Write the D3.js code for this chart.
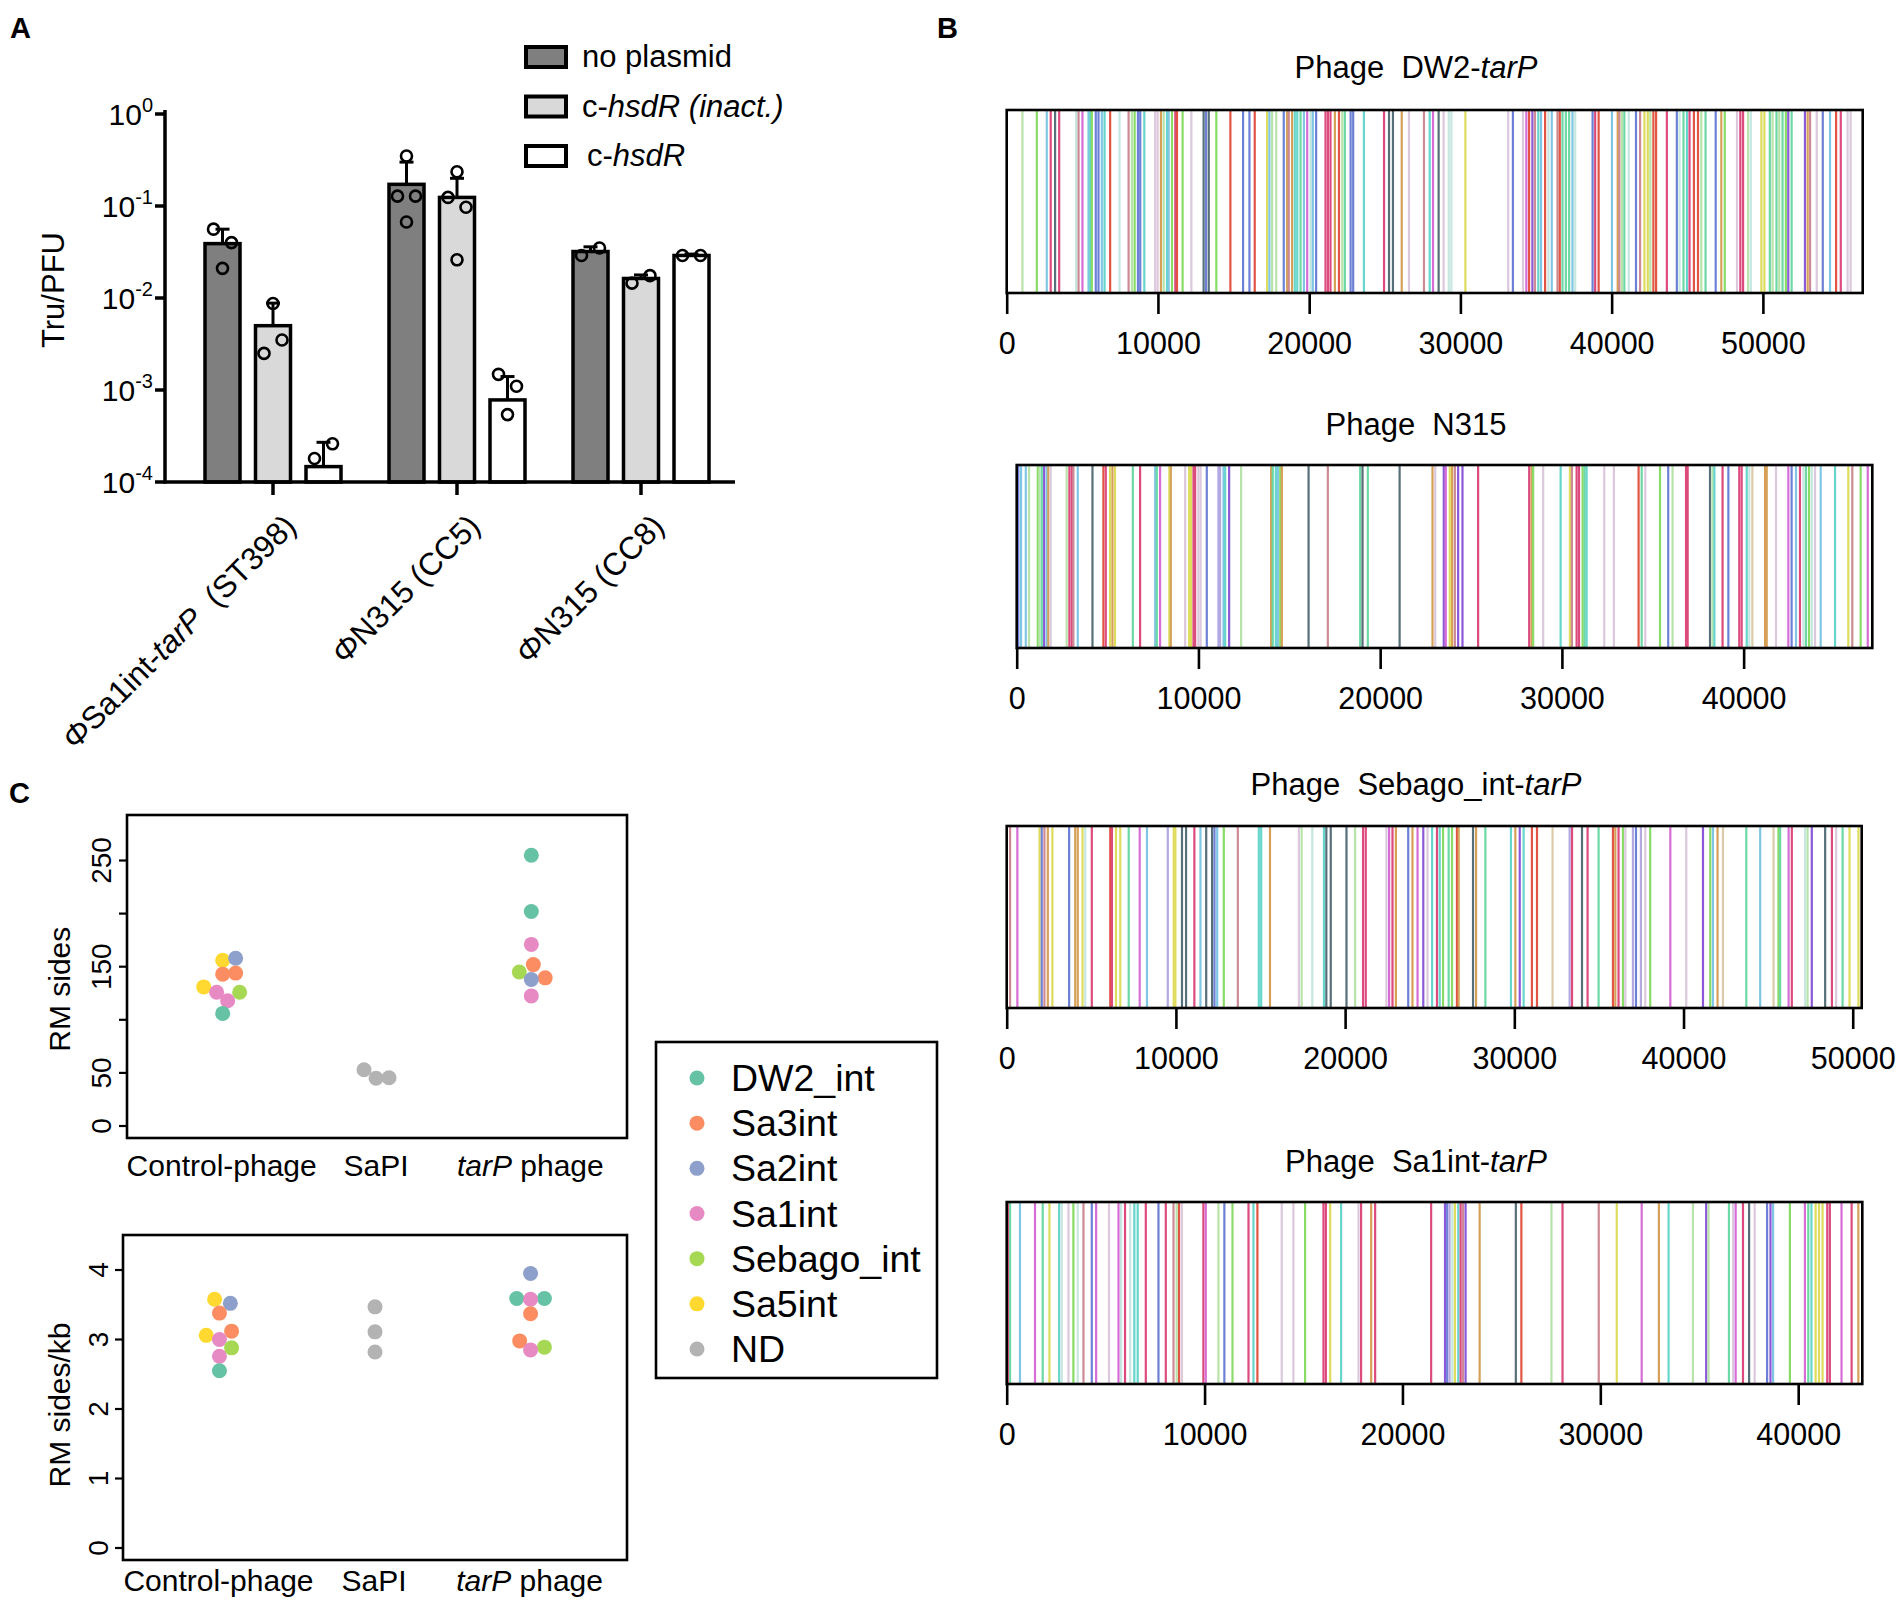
<!DOCTYPE html>
<html>
<head>
<meta charset="utf-8">
<script src="https://cdn.jsdelivr.net/npm/d3@7"></script>
<style>
  body { margin: 0; background: #fff; }
  text { font-family: "Liberation Sans", Arial, sans-serif; fill: #000; }
</style>
</head>
<body>
<div id="fig"></div>
<script>
// ---------- panel A data ----------
const groupsA = ["Sa1int", "N315_CC5", "N315_CC8"];
const seriesA = ["no plasmid", "c-hsdR (inact.)", "c-hsdR"];
const meanNoPlasmid = [0.039, 0.172, 0.032];
const meanInact = [0.0050, 0.124, 0.0163];
const meanHsdR = [0.000147, 0.00078, 0.029];
const upperNoPlasmid = [0.056, 0.30, 0.036];
const upperInact = [0.0088, 0.20, 0.0178];
const upperHsdR = [0.00027, 0.0014, 0.030];
const ptsNoPlasmid = [[0.056, 0.040, 0.021], [0.35, 0.128, 0.128, 0.067], [0.029, 0.035]];
const ptsInact = [[0.0025, 0.0035, 0.0087], [0.236, 0.124, 0.097, 0.026], [0.0145, 0.0175]];
const ptsHsdR = [[0.00018, 0.00026], [0.00148, 0.0011, 0.00054], [0.029, 0.029]];
const yTicksA = [1e-4, 1e-3, 1e-2, 1e-1, 1];

// ---------- panel C data ----------
const integrases = ["DW2_int", "Sa3int", "Sa2int", "Sa1int", "Sebago_int", "Sa5int", "ND"];
const categoriesC = ["Control-phage", "SaPI", "tarP phage"];
// [category index, integrase, value, jitter]
const rmSites = [
  [1, "Sa5int", 156, 0], [1, "Sa5int", 131, -0.123], [1, "Sa2int", 158, 0.084],
  [1, "Sa3int", 143, 0], [1, "Sa3int", 144, 0.084], [1, "Sa1int", 126, -0.039],
  [1, "Sa1int", 118, 0.032], [1, "Sebago_int", 126, 0.11], [1, "DW2_int", 106, 0],
  [2, "ND", 53, -0.084], [2, "ND", 45, -0.006], [2, "ND", 45.5, 0.078],
  [3, "DW2_int", 255, 0], [3, "DW2_int", 202, 0], [3, "Sa1int", 171, 0],
  [3, "Sa3int", 152, 0.013], [3, "Sebago_int", 145, -0.078], [3, "Sa3int", 139.5, 0.09],
  [3, "Sa2int", 138, 0], [3, "Sa1int", 122.5, 0]
];
const rmSitesKb = [
  [1, "Sa5int", 3.58, -0.031], [1, "Sa2int", 3.52, 0.07], [1, "Sa3int", 3.38, 0],
  [1, "Sa3int", 3.12, 0.078], [1, "Sa5int", 3.06, -0.085], [1, "Sa1int", 3.0, 0],
  [1, "Sebago_int", 2.88, 0.078], [1, "Sa1int", 2.76, 0], [1, "DW2_int", 2.55, 0],
  [2, "ND", 3.47, 0], [2, "ND", 3.11, 0], [2, "ND", 2.82, 0],
  [3, "Sa2int", 3.95, 0], [3, "DW2_int", 3.59, -0.089], [3, "DW2_int", 3.59, 0.089],
  [3, "Sa1int", 3.58, 0], [3, "Sa3int", 3.37, 0], [3, "Sa3int", 2.98, -0.07],
  [3, "Sebago_int", 2.89, 0.089], [3, "Sa1int", 2.85, 0]
];
const yTicksTop = [0, 50, 100, 150, 200, 250];
const yLabelsTop = [0, 50, 150, 250];
const yTicksBottom = [0, 1, 2, 3, 4];

// ---------- panel B data (site position in bp, motif class) ----------
const phageNames = [["Phage\u00a0 DW2-", "tarP"], ["Phage\u00a0 N315", ""], ["Phage\u00a0 Sebago_int-", "tarP"], ["Phage\u00a0 Sa1int-", "tarP"]];
const phageLengths = [56600, 47080, 50530, 43240];
const phageTicks = [[0, 10000, 20000, 30000, 40000, 50000], [0, 10000, 20000, 30000, 40000], [0, 10000, 20000, 30000, 40000, 50000], [0, 10000, 20000, 30000, 40000]];
const motifClasses = ["lg", "gr", "sg", "tq", "pl", "lb", "bl", "vi", "lv", "mg", "pk", "rs", "cr", "rd", "tn", "bg", "yl", "dk"];

const dw2Sites = [[1040,"lg"],[1990,"gr"],[2650,"lb"],[2910,"cr"],[3200,"dk"],[3470,"cr"],[4590,"pl"],[4750,"rs"],[5010,"mg"],[5410,"lb"],[5520,"tq"],[5630,"gr"],[5890,"bl"],[6070,"bl"],[6290,"lb"],[6470,"tq"],[6840,"rd"],[7460,"pl"],[8060,"rs"],[8280,"lg"],[8460,"gr"],[8680,"bl"],[8830,"bl"],[9100,"tq"],[9820,"pk"],[9980,"pk"],[10200,"tn"],[10380,"lg"],[10600,"tq"],[10710,"lb"],[10930,"gr"],[11150,"cr"],[11260,"rd"],[11630,"gr"],[12210,"pk"],[13020,"dk"],[13180,"bl"],[13360,"dk"],[13860,"gr"],[14790,"rd"],[15630,"bl"],[16050,"bl"],[16400,"rd"],[17220,"yl"],[17370,"lb"],[17550,"lg"],[17820,"lg"],[18320,"bl"],[18540,"tn"],[18650,"rs"],[18870,"tn"],[19050,"tq"],[19210,"tq"],[19430,"sg"],[19650,"lb"],[19870,"mg"],[20090,"pl"],[20240,"lb"],[20460,"bl"],[21080,"cr"],[21240,"cr"],[21410,"cr"],[21700,"tn"],[21970,"rd"],[22190,"lg"],[22360,"sg"],[22740,"bl"],[22910,"bl"],[23620,"tq"],[24950,"cr"],[25280,"dk"],[25540,"dk"],[26120,"tn"],[26600,"pk"],[27590,"rs"],[27970,"tq"],[28190,"mg"],[28560,"dk"],[28890,"pk"],[29230,"pl"],[29400,"pl"],[30330,"yl"],[33160,"pk"],[33470,"bl"],[34140,"pk"],[34360,"mg"],[34540,"rd"],[34760,"vi"],[34930,"rs"],[35150,"tq"],[35330,"lb"],[35600,"rd"],[35820,"pl"],[36040,"lb"],[36420,"rs"],[36570,"rd"],[36750,"sg"],[36970,"sg"],[37190,"sg"],[37410,"lb"],[37590,"pl"],[38740,"bl"],[38910,"cr"],[39140,"rd"],[40020,"lb"],[40400,"tn"],[40510,"rs"],[40680,"lg"],[40840,"sg"],[41130,"pl"],[41610,"bl"],[41880,"rs"],[42170,"yl"],[42390,"yl"],[42560,"lg"],[42760,"rd"],[42940,"rd"],[43650,"cr"],[44310,"bl"],[44490,"pl"],[44750,"sg"],[44980,"tq"],[45150,"cr"],[45440,"rd"],[45710,"rd"],[45930,"lg"],[46210,"sg"],[46880,"bl"],[47250,"tn"],[47480,"gr"],[48290,"pk"],[48510,"cr"],[48690,"cr"],[49020,"lg"],[49200,"pl"],[49900,"yl"],[50100,"yl"],[50460,"sg"],[50640,"lg"],[50900,"sg"],[51080,"lg"],[51300,"sg"],[51520,"gr"],[51680,"vi"],[51900,"sg"],[52780,"vi"],[52960,"tn"],[53120,"rs"],[53560,"pk"],[53960,"bl"],[54440,"lb"],[54840,"rd"],[55150,"cr"],[55600,"pk"],[55800,"pk"]];

const n315Sites = [[90,"bl"],[240,"lb"],[500,"lb"],[680,"lg"],[1160,"gr"],[1250,"lg"],[1380,"sg"],[1510,"vi"],[1650,"lb"],[1740,"tn"],[1870,"pk"],[2750,"lg"],[2900,"cr"],[3030,"cr"],[3120,"rs"],[3360,"lb"],[4170,"dk"],[4770,"rd"],[4900,"cr"],[5140,"yl"],[5270,"tn"],[5410,"yl"],[6390,"sg"],[6790,"cr"],[7620,"lb"],[7710,"sg"],[7890,"mg"],[8400,"yl"],[8480,"tn"],[9270,"pk"],[9490,"yl"],[9600,"yl"],[9730,"cr"],[9820,"cr"],[10000,"pk"],[10120,"pk"],[10460,"bl"],[11100,"lv"],[11190,"lv"],[11380,"lb"],[11470,"tq"],[11690,"vi"],[12350,"lg"],[14000,"tn"],[14090,"sg"],[14260,"tq"],[14370,"lb"],[14500,"gr"],[14590,"tn"],[16060,"dk"],[17120,"rs"],[18900,"sg"],[19030,"dk"],[19320,"sg"],[21070,"dk"],[22880,"tn"],[23030,"pk"],[23500,"vi"],[23610,"mg"],[23830,"yl"],[23960,"tn"],[24110,"rs"],[24290,"vi"],[24530,"vi"],[25390,"cr"],[28200,"cr"],[28330,"tn"],[28420,"gr"],[28970,"pk"],[29930,"tq"],[30440,"yl"],[30550,"rs"],[30810,"cr"],[30940,"cr"],[31140,"gr"],[31250,"sg"],[31360,"tq"],[32330,"pk"],[32860,"pk"],[34220,"rd"],[34390,"sg"],[34590,"pk"],[35400,"gr"],[35850,"bl"],[36090,"lg"],[36830,"cr"],[36920,"cr"],[38150,"dk"],[38290,"lg"],[38390,"tq"],[38840,"cr"],[39160,"bl"],[39760,"cr"],[39890,"cr"],[40170,"tq"],[40310,"pl"],[40480,"bg"],[41180,"tn"],[41270,"tn"],[41780,"pk"],[42460,"mg"],[42640,"bl"],[42880,"lb"],[43100,"cr"],[43290,"pl"],[43430,"sg"],[43600,"gr"],[43750,"pl"],[43930,"pk"],[44240,"lb"],[45030,"tq"],[45760,"yl"],[45980,"rs"],[46440,"gr"],[46830,"mg"]];

const sebagoSites = [[200,"rs"],[630,"mg"],[1940,"yl"],[2070,"bl"],[2230,"rs"],[2430,"tn"],[2700,"yl"],[3690,"bl"],[4050,"tn"],[4200,"tn"],[4480,"yl"],[4640,"pl"],[5030,"cr"],[6120,"rd"],[6220,"cr"],[6460,"yl"],[6710,"yl"],[7210,"sg"],[7860,"mg"],[8290,"lb"],[9520,"lv"],[9870,"yl"],[9970,"yl"],[10360,"dk"],[10600,"dk"],[11090,"cr"],[11450,"lb"],[11790,"dk"],[12140,"dk"],[12280,"bl"],[12440,"lb"],[12830,"gr"],[13660,"rs"],[14900,"tq"],[15040,"tq"],[15560,"tn"],[17270,"pk"],[17430,"lg"],[18060,"pl"],[18750,"tq"],[18890,"dk"],[19150,"dk"],[20080,"dk"],[20590,"lg"],[21060,"cr"],[21220,"cr"],[22440,"pk"],[22600,"mg"],[22800,"cr"],[23000,"tn"],[23730,"bl"],[23980,"tn"],[24280,"mg"],[24620,"vi"],[24870,"pk"],[25140,"tq"],[25430,"cr"],[25590,"tq"],[25790,"gr"],[26120,"sg"],[26320,"gr"],[26610,"rd"],[26710,"tn"],[27560,"dk"],[27740,"tn"],[28290,"sg"],[29800,"tq"],[30060,"tn"],[30320,"vi"],[30550,"tq"],[31040,"rd"],[31340,"rd"],[32260,"bg"],[33270,"lv"],[33410,"cr"],[34000,"dk"],[34330,"cr"],[34980,"sg"],[35830,"rd"],[35970,"tn"],[36160,"cr"],[36420,"gr"],[36560,"pk"],[37010,"lv"],[37190,"bl"],[37480,"lv"],[37740,"pk"],[38030,"gr"],[39220,"mg"],[40160,"pk"],[41150,"vi"],[41580,"gr"],[41740,"lb"],[42010,"tn"],[42330,"bg"],[43710,"sg"],[44530,"lb"],[45320,"bg"],[45610,"gr"],[45710,"sg"],[46210,"mg"],[46400,"cr"],[47190,"pl"],[47330,"lg"],[47580,"vi"],[48370,"dk"],[48770,"cr"],[49020,"pk"],[49400,"sg"],[49810,"yl"],[50340,"yl"]];

const sa1Sites = [[60,"cr"],[170,"sg"],[670,"lb"],[1430,"mg"],[1820,"sg"],[2160,"yl"],[2650,"tq"],[2780,"pl"],[3120,"pk"],[3370,"gr"],[3590,"pl"],[3880,"rs"],[4300,"bl"],[4520,"mg"],[5170,"pk"],[5650,"mg"],[5780,"pl"],[5980,"cr"],[6240,"pl"],[6450,"tq"],[6620,"tq"],[7030,"cr"],[7670,"bl"],[8040,"cr"],[8430,"rs"],[8590,"lg"],[8710,"rd"],[8850,"pk"],[9940,"cr"],[10060,"mg"],[10700,"lg"],[11000,"bl"],[11410,"gr"],[12220,"cr"],[12470,"tq"],[12670,"rd"],[13900,"pk"],[14490,"pk"],[15080,"gr"],[16010,"cr"],[16130,"cr"],[16350,"yl"],[16900,"tq"],[17780,"pk"],[17910,"cr"],[18420,"tn"],[18620,"cr"],[21450,"cr"],[22150,"vi"],[22260,"bl"],[22380,"lv"],[22520,"pl"],[22650,"yl"],[22820,"tq"],[22940,"cr"],[23060,"rs"],[23190,"vi"],[23900,"tn"],[25730,"dk"],[26010,"rd"],[27530,"lg"],[28090,"cr"],[29920,"rs"],[30830,"yl"],[32090,"mg"],[32960,"tn"],[33450,"tq"],[34680,"lg"],[35350,"vi"],[35470,"lg"],[36500,"sg"],[36710,"pk"],[36840,"mg"],[37210,"cr"],[37520,"dk"],[37800,"pk"],[38430,"bl"],[38600,"vi"],[38730,"lb"],[39580,"gr"],[40340,"mg"],[40510,"sg"],[40670,"tq"],[40880,"yl"],[41050,"yl"],[41230,"yl"],[41470,"cr"],[41600,"cr"],[42190,"mg"],[42700,"cr"],[43040,"tn"]];

const phageSites = [dw2Sites, n315Sites, sebagoSites, sa1Sites];

// ---------- drawing ----------
const svg = d3.select("#fig").append("svg")
  .attr("width", 1904)
  .attr("height", 1604);

svg.append("rect").attr("width", 1904).attr("height", 1604).attr("fill", "#fff");

function panelLetter(t, x, y) {
  svg.append("text").attr("x", x).attr("y", y)
    .style("font-size", "29px").style("font-weight", "bold").text(t);
}
panelLetter("A", 10, 38);
panelLetter("B", 937, 38);
panelLetter("C", 9, 803);

// ===== Panel A =====
const A = { left: 165, right: 735, top: 114, bottom: 482 };
const yA = d3.scaleLog().domain([1e-4, 1]).range([A.bottom, A.top]);
const xA = d3.scaleBand().domain(groupsA).range([181, 733]);
const xSub = d3.scaleBand().domain(seriesA).range([-75.75, 75.75]);
const barW = 35;
const fillsA = ["#7f7f7f", "#d9d9d9", "#ffffff"];
const meansA = [meanNoPlasmid, meanInact, meanHsdR];
const uppersA = [upperNoPlasmid, upperInact, upperHsdR];
const ptsA = [ptsNoPlasmid, ptsInact, ptsHsdR];
const jitterPattern = { 2: [-1, 1], 3: [-1, 1, 0], 4: [0, -1, 1, 0] };

const gA = svg.append("g");
const barData = [];
groupsA.forEach((g, gi) => seriesA.forEach((s, si) => {
  barData.push({ g, s, si, mean: meansA[si][gi], upper: uppersA[si][gi], pts: ptsA[si][gi] });
}));
const cx = d => xA(d.g) + xA.bandwidth() / 2 + xSub(d.s) + xSub.bandwidth() / 2;

// error bars (behind the bars)
gA.selectAll("line.err").data(barData).enter().append("line")
  .attr("x1", cx).attr("x2", cx)
  .attr("y1", d => yA(d.mean)).attr("y2", d => yA(d.upper))
  .attr("stroke", "#000").attr("stroke-width", 3);
gA.selectAll("line.cap").data(barData).enter().append("line")
  .attr("x1", d => cx(d) - 7).attr("x2", d => cx(d) + 7)
  .attr("y1", d => yA(d.upper)).attr("y2", d => yA(d.upper))
  .attr("stroke", "#000").attr("stroke-width", 3);

gA.selectAll("rect.bar").data(barData).enter().append("rect")
  .attr("x", d => cx(d) - barW / 2)
  .attr("y", d => yA(d.mean))
  .attr("width", barW)
  .attr("height", d => A.bottom - yA(d.mean))
  .attr("fill", d => fillsA[d.si])
  .attr("stroke", "#000").attr("stroke-width", 3.5);

barData.forEach(d => {
  const pat = jitterPattern[d.pts.length];
  gA.selectAll(null).data(d.pts).enter().append("circle")
    .attr("cx", (v, i) => cx(d) + pat[i] * 9)
    .attr("cy", v => yA(v))
    .attr("r", 5.5)
    .attr("fill", "none").attr("stroke", "#000").attr("stroke-width", 2.6);
});

// axes
gA.append("line").attr("x1", A.left).attr("x2", A.left).attr("y1", A.top - 4).attr("y2", A.bottom + 1.5)
  .attr("stroke", "#000").attr("stroke-width", 3.5);
gA.append("line").attr("x1", A.left - 1.5).attr("x2", A.right).attr("y1", A.bottom).attr("y2", A.bottom)
  .attr("stroke", "#000").attr("stroke-width", 3.5);
yTicksA.forEach(t => {
  gA.append("line").attr("x1", A.left - 10).attr("x2", A.left).attr("y1", yA(t)).attr("y2", yA(t))
    .attr("stroke", "#000").attr("stroke-width", 3.5);
  const tx = gA.append("text").attr("x", 153).attr("y", yA(t) + 11)
    .attr("text-anchor", "end").style("font-size", "30px");
  tx.append("tspan").text("10");
  tx.append("tspan").attr("dy", -13).style("font-size", "20px").text(Math.round(Math.log10(t)) === 0 ? "0" : Math.round(Math.log10(t)));
});
groupsA.forEach(g => {
  const x = xA(g) + xA.bandwidth() / 2;
  gA.append("line").attr("x1", x).attr("x2", x).attr("y1", A.bottom).attr("y2", A.bottom + 13)
    .attr("stroke", "#000").attr("stroke-width", 3.5);
});
gA.append("text").attr("transform", "translate(64,290) rotate(-90)")
  .attr("text-anchor", "middle").style("font-size", "31px").text("Tru/PFU");

// rotated category labels
const labelPartsA = [
  [["Φ", true], ["Sa1int-", false], ["tarP", true], ["\u00a0 (ST398)", false]],
  [["Φ", true], ["N315 (CC5)", false]],
  [["Φ", true], ["N315 (CC8)", false]]
];
groupsA.forEach((g, gi) => {
  const x = xA(g) + xA.bandwidth() / 2 + 25;
  const t = gA.append("text").attr("transform", `translate(${x},${A.bottom + 46}) rotate(-45)`)
    .attr("text-anchor", "end").style("font-size", "31.5px");
  labelPartsA[gi].forEach(p => t.append("tspan").style("font-style", p[1] ? "italic" : "normal").text(p[0]));
});

// legend A
const legA = [
  [["no plasmid", false]],
  [["c-", false], ["hsdR (inact.)", true]],
  [["c-", false], ["hsdR", true]]
];
const legAy = d3.scalePoint().domain(seriesA).range([57, 156]);
seriesA.forEach((s, i) => {
  const y = legAy(s);
  gA.append("rect").attr("x", 526).attr("y", y - 10).attr("width", 40).attr("height", 20)
    .attr("fill", fillsA[i]).attr("stroke", "#000").attr("stroke-width", 4);
  const t = gA.append("text").attr("x", i === 2 ? 587 : 582).attr("y", y + 10).style("font-size", "31px");
  legA[i].forEach(p => t.append("tspan").style("font-style", p[1] ? "italic" : "normal").text(p[0]));
});

// ===== Panel C =====
const setColors = d3.scaleOrdinal().domain(integrases)
  .range(["#66c2a5", "#fc8d62", "#8da0cb", "#e78ac3", "#a6d854", "#ffd92f", "#b3b3b3"]);

function stripPanel(box, yDomain, yRange, ticks, labels, data, yTitle, catY, tickLabelX) {
  const g = svg.append("g");
  const x = d3.scaleLinear().domain([0.38, 3.62]).range([box.left, box.right]);
  const y = d3.scaleLinear().domain(yDomain).range(yRange);
  g.selectAll("circle").data(data).enter().append("circle")
    .attr("cx", d => x(d[0] + d[3]))
    .attr("cy", d => y(d[2]))
    .attr("r", 7.5)
    .attr("fill", d => setColors(d[1]));
  g.append("rect").attr("x", box.left).attr("y", box.top)
    .attr("width", box.right - box.left).attr("height", box.bottom - box.top)
    .attr("fill", "none").attr("stroke", "#000").attr("stroke-width", 2.6);
  ticks.forEach(t => {
    g.append("line").attr("x1", box.left - 8).attr("x2", box.left).attr("y1", y(t)).attr("y2", y(t))
      .attr("stroke", "#000").attr("stroke-width", 2.2);
  });
  labels.forEach(t => {
    g.append("text").attr("transform", `translate(${tickLabelX},${y(t)}) rotate(-90)`)
      .attr("text-anchor", "middle").style("font-size", "28px").text(t);
  });
  g.append("text").attr("transform", `translate(70,${(yRange[0] + yRange[1]) / 2 - 4}) rotate(-90)`)
    .attr("text-anchor", "middle").style("font-size", "30px").text(yTitle);
  const catParts = [[["Control-phage", false]], [["SaPI", false]], [["tarP", true], [" phage", false]]];
  categoriesC.forEach((c, i) => {
    const t = g.append("text").attr("x", x(i + 1) - 1).attr("y", catY)
      .attr("text-anchor", "middle").style("font-size", "30px");
    catParts[i].forEach(p => t.append("tspan").style("font-style", p[1] ? "italic" : "normal").text(p[0]));
  });
}

stripPanel({ left: 127, right: 627, top: 815, bottom: 1138 }, [0, 250], [1126, 860.5],
  yTicksTop, yLabelsTop, rmSites, "RM sides", 1176, 111);
stripPanel({ left: 123, right: 627, top: 1235, bottom: 1560 }, [0, 4], [1548, 1270],
  yTicksBottom, yTicksBottom, rmSitesKb, "RM sides/kb", 1591, 108);

// legend C
const legC = svg.append("g");
legC.append("rect").attr("x", 656).attr("y", 1042).attr("width", 281).attr("height", 336)
  .attr("fill", "#fff").attr("stroke", "#000").attr("stroke-width", 2.6);
const legCy = d3.scalePoint().domain(integrases).range([1078, 1349]);
integrases.forEach(k => {
  legC.append("circle").attr("cx", 697).attr("cy", legCy(k)).attr("r", 7.5).attr("fill", setColors(k));
  legC.append("text").attr("x", 731).attr("y", legCy(k) + 13).style("font-size", "37.5px").text(k);
});

// ===== Panel B =====
const motifColor = d3.scaleOrdinal().domain(motifClasses)
  .range(["#b8e3aa", "#88dc66", "#6cd8a4", "#66d6cc", "#c6e6e0", "#80c6e4", "#6c80d6", "#8b58d8", "#b4a8e2",
          "#d66cd6", "#dcc8dc", "#cc8a94", "#dc4a7e", "#e25444", "#d6a058", "#dccbaa", "#dedc5c", "#566f78"]);
const stripBoxes = [
  { x0: 1006.7, w: 856, y0: 110, y1: 293, ty: 78 },
  { x0: 1016.7, w: 855.6, y0: 465, y1: 648, ty: 435 },
  { x0: 1006.7, w: 855, y0: 826, y1: 1008, ty: 795 },
  { x0: 1006.7, w: 855.6, y0: 1202, y1: 1384, ty: 1172 }
];

phageSites.forEach((sites, i) => {
  const b = stripBoxes[i];
  const g = svg.append("g");
  const x = d3.scaleLinear().domain([0, phageLengths[i]]).range([b.x0, b.x0 + b.w]);
  g.selectAll("line.site").data(sites).enter().append("line")
    .attr("x1", d => x(d[0])).attr("x2", d => x(d[0]))
    .attr("y1", b.y0).attr("y2", b.y1)
    .attr("stroke", d => motifColor(d[1])).attr("stroke-width", 2.2);
  g.append("rect").attr("x", b.x0).attr("y", b.y0).attr("width", b.w).attr("height", b.y1 - b.y0)
    .attr("fill", "none").attr("stroke", "#000").attr("stroke-width", 2.6);
  const ax = g.append("g").attr("transform", `translate(0,${b.y1})`)
    .call(d3.axisBottom(x).tickValues(phageTicks[i]).tickSize(21).tickPadding(18).tickFormat(d3.format("d")));
  ax.select(".domain").remove();
  ax.selectAll(".tick line").attr("stroke", "#000").attr("stroke-width", 2.6);
  ax.selectAll(".tick text").style("font-size", "30.5px").attr("fill", "#000")
    .style("font-family", "'Liberation Sans', Arial, sans-serif");
  const t = g.append("text").attr("x", 1416).attr("y", b.ty).attr("text-anchor", "middle").style("font-size", "31px");
  t.append("tspan").text(phageNames[i][0]);
  if (phageNames[i][1]) t.append("tspan").style("font-style", "italic").text(phageNames[i][1]);
});
</script>
</body>
</html>
